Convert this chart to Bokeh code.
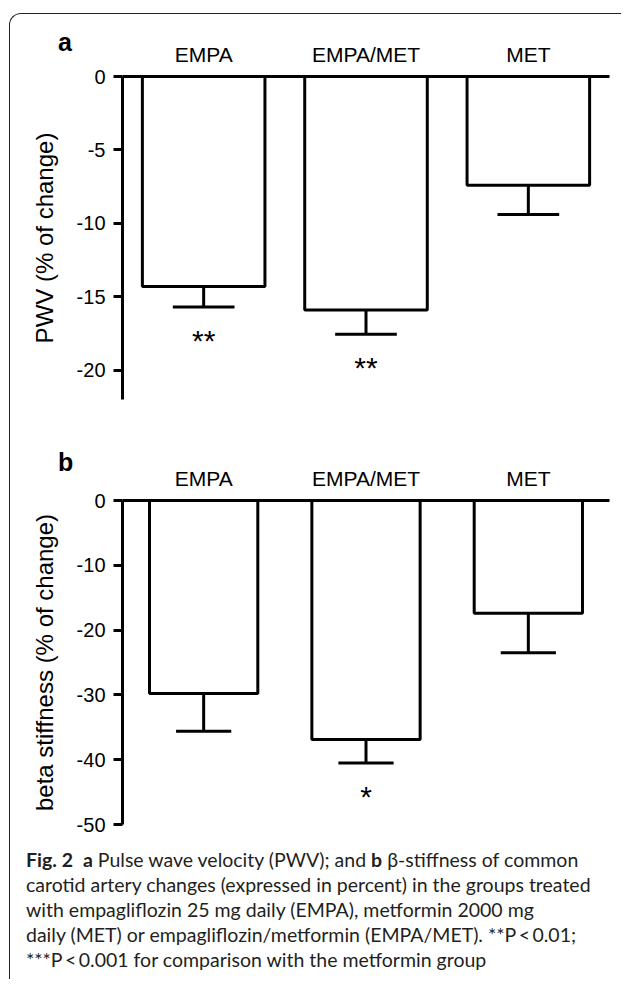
from bokeh.plotting import figure
from bokeh.models import ColumnDataSource, FactorRange, Range1d, Div, FixedTicker
from bokeh.layouts import column
from bokeh.transform import dodge
from bokeh.embed import file_html
from bokeh.resources import INLINE
from bokeh.core.properties import value

# ---- data ----
groups = ["EMPA", "EMPA/MET", "MET"]

pwv_mean = [-14.3, -15.9, -7.4]      # bar ends (% of change)
pwv_err_low = [-15.7, -17.55, -9.4]  # lower end of error bars
pwv_sig = ["**", "**", ""]
pwv_ticks = [0, -5, -10, -15, -20]

beta_mean = [-29.8, -36.9, -17.4]
beta_err_low = [-35.6, -40.5, -23.5]
beta_sig = ["", "*", ""]
beta_ticks = [0, -10, -20, -30, -40, -50]

FONT = "Liberation Sans"


def panel(means, errs, sig, ticks, ymin, ylabel, bar_w, cap_w,
          frame_h, border_top, border_bottom):
    src = ColumnDataSource(dict(cat=groups, mean=means, err=errs, sig=sig))
    p = figure(x_range=FactorRange(*groups), y_range=Range1d(ymin, 0),
               frame_width=487, frame_height=frame_h,
               x_axis_location="above",
               min_border_left=112, min_border_right=5,
               min_border_top=border_top, min_border_bottom=border_bottom,
               toolbar_location=None, output_backend="svg",
               outline_line_color=None)
    p.grid.visible = False
    p.background_fill_color = "white"
    p.border_fill_color = None

    xa = p.xaxis[0]
    xa.axis_line_width = 3
    xa.axis_line_color = "black"
    xa.major_tick_line_color = None
    xa.minor_tick_line_color = None
    xa.major_label_standoff = 5
    xa.major_label_text_font = FONT
    xa.major_label_text_font_size = "21px"
    xa.major_label_text_color = "black"

    ya = p.yaxis[0]
    ya.ticker = FixedTicker(ticks=ticks)
    ya.major_label_overrides = {t: str(t) for t in ticks}
    ya.axis_line_width = 3
    ya.axis_line_color = "black"
    ya.major_tick_out = 9
    ya.major_tick_in = 0
    ya.major_tick_line_width = 3
    ya.major_tick_line_color = "black"
    ya.minor_tick_line_color = None
    ya.major_label_standoff = 8
    ya.major_label_text_font = FONT
    ya.major_label_text_font_size = "20px"
    ya.major_label_text_color = "black"
    ya.axis_label = ylabel
    ya.axis_label_text_font = FONT
    ya.axis_label_text_font_style = "normal"
    ya.axis_label_text_font_size = "24px"
    ya.axis_label_text_color = "black"
    ya.axis_label_standoff = 16

    p.vbar(x="cat", top=0, bottom="mean", width=bar_w, source=src,
           fill_color="white", line_color="black", line_width=3)
    p.segment(x0="cat", x1="cat", y0="mean", y1="err", source=src,
              line_color="black", line_width=3)
    p.segment(x0=dodge("cat", -cap_w / 2, range=p.x_range),
              x1=dodge("cat", cap_w / 2, range=p.x_range),
              y0="err", y1="err", source=src,
              line_color="black", line_width=3)
    p.text(x="cat", y="err", text="sig", source=src,
           text_align="center", text_baseline="top", y_offset=17,
           text_font=value(FONT), text_font_size="30px", text_color="black")
    return p


def letter(txt, dx, dy):
    return Div(text=txt, width=24, height=1, margin=(0, 0, 0, 0),
               styles={"overflow": "visible", "z-index": "5",
                       "font-family": "Liberation Sans", "font-size": "25px",
                       "font-weight": "bold", "line-height": "25px",
                       "color": "black",
                       "transform": f"translate({dx}px, {dy}px)"})


la = letter("a", 48, 16)
pa = panel(pwv_mean, pwv_err_low, pwv_sig, pwv_ticks, -22,
           "PWV (% of change)", 0.755, 0.38, 323, 61, 41)
lb = letter("b", 48, 10)
pb = panel(beta_mean, beta_err_low, beta_sig, beta_ticks, -50,
           "beta stiffness (% of change)", 0.667, 0.34, 324, 59, 20)

caption_html = (
    "<b>Fig.&nbsp;2</b>&nbsp; <b>a</b> Pulse wave velocity (PWV); and <b>b</b> &beta;-stiffness of common<br>"
    "carotid artery changes (expressed in percent) in the groups treated<br>"
    "with empagliflozin 25 mg daily (EMPA), metformin 2000 mg<br>"
    "daily (MET) or empagliflozin/metformin (EMPA/MET). **P&thinsp;&lt;&thinsp;0.01;<br>"
    "***P&thinsp;&lt;&thinsp;0.001 for comparison with the metformin group"
)
cap = Div(text=caption_html, width=595, height=132, margin=(3, 0, 0, 16),
          styles={"font-family": "Lato", "font-size": "19.5px",
                  "line-height": "25px", "color": "#231f20",
                  "white-space": "nowrap"})

layout = column(la, pa, lb, pb, cap, margin=(13, 0, 0, 9),
                styles={"border-top": "1px solid #222",
                        "border-left": "1px solid #222",
                        "border-top-left-radius": "12px"})

open("out.html", "w").write(file_html(layout, INLINE))
